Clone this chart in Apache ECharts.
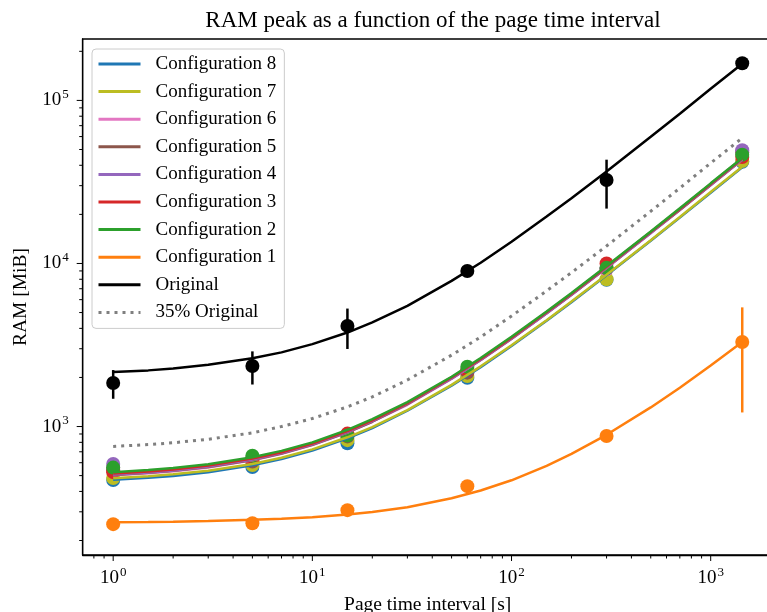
<!DOCTYPE html>
<html>
<head>
<meta charset="utf-8">
<script src="https://cdn.jsdelivr.net/npm/echarts@6/dist/echarts.min.js"></script>
<style>
  html, body { margin: 0; padding: 0; background: #fff; }
  #chart { width: 767px; height: 612px; }
</style>
</head>
<body>
<div id="chart"></div>
<script>
// measured points
const xPoints = [1, 5, 15, 60, 300, 1440];
const conf8Pts = [470, 565, 790, 1990, 7950, 42000];
const conf7Pts = [483, 580, 825, 2040, 8000, 42500];
const conf6Pts = [560, 615, 880, 2170, 9200, 49000];
const conf5Pts = [540, 610, 870, 2140, 9300, 48000];
const conf4Pts = [590, 640, 895, 2230, 9400, 49500];
const conf3Pts = [525, 630, 905, 2220, 10000, 45000];
const conf2Pts = [560, 662, 880, 2330, 9400, 46500];
const conf1Pts = [252, 255, 307, 431, 875, 3300];
const conf1Err = [0, 0, 0, 0, 0, 2080];
const origPts = [1850, 2350, 4140, 8990, 32500, 169000];
const origErr = [370, 540, 1150, 400, 10800, 5000];

// fitted curves, read at these x values
const fitX = [1, 1.5, 2, 3, 5, 7, 10, 15, 20, 30, 50, 70, 100, 150, 200, 300, 500, 700, 1000, 1440];
const conf8Fit = [472, 485, 498, 525, 579, 632, 712, 846, 979, 1250, 1780, 2310, 3120, 4450, 5790, 8460, 13800, 19100, 27100, 38900];
const conf7Fit = [482, 495, 509, 536, 590, 643, 724, 859, 993, 1260, 1800, 2340, 3150, 4490, 5840, 8530, 13900, 19300, 27400, 39200];
const conf6Fit = [502, 517, 531, 561, 621, 680, 769, 918, 1070, 1360, 1960, 2550, 3440, 4930, 6410, 9380, 15300, 21300, 30200, 43200];
const conf5Fit = [505, 520, 535, 564, 624, 684, 773, 922, 1070, 1370, 1970, 2560, 3460, 4950, 6440, 9420, 15400, 21300, 30300, 43400];
const conf4Fit = [508, 523, 538, 568, 628, 687, 777, 927, 1080, 1380, 1970, 2570, 3470, 4960, 6460, 9450, 15400, 21400, 30400, 43500];
const conf3Fit = [515, 530, 545, 576, 636, 696, 787, 938, 1090, 1390, 2000, 2600, 3510, 5020, 6530, 9550, 15600, 21600, 30700, 44000];
const conf2Fit = [525, 541, 556, 587, 648, 709, 800, 953, 1110, 1410, 2020, 2630, 3550, 5070, 6600, 9650, 15700, 21800, 31000, 44400];
const conf1Fit = [259, 260, 261, 263, 268, 272, 278, 289, 299, 320, 363, 405, 468, 574, 679, 890, 1310, 1730, 2370, 3300];
const origFit = [2160, 2210, 2270, 2390, 2620, 2850, 3200, 3770, 4350, 5500, 7820, 10100, 13600, 19400, 25100, 36700, 59800, 82900, 118000, 168000];
const orig35Fit = [755, 775, 795, 835, 915, 1000, 1120, 1320, 1520, 1930, 2740, 3540, 4760, 6790, 8790, 12800, 20900, 29000, 41300, 58800];

// axis ticks
const xMajor = [1, 10, 100, 1000];
const xMinor = [0.8, 0.9, 2, 3, 4, 5, 6, 7, 8, 9, 20, 30, 40, 50, 60, 70, 80, 90, 200, 300, 400, 500, 600, 700, 800, 900, 2000];
const yMajor = [1000, 10000, 100000];
const yMinor = [200, 300, 400, 500, 600, 700, 800, 900, 2000, 3000, 4000, 5000, 6000, 7000, 8000, 9000,
  20000, 30000, 40000, 50000, 60000, 70000, 80000, 90000, 200000];

const X_MIN = 0.703, X_MAX = 2048;
const Y_MIN = 163, Y_MAX = 238000;
const FONT = '"Liberation Serif", "DejaVu Serif", serif';

const configs = [
  { name: 'Configuration 8', color: '#1f77b4', pts: conf8Pts, fit: conf8Fit },
  { name: 'Configuration 7', color: '#bcbd22', pts: conf7Pts, fit: conf7Fit },
  { name: 'Configuration 6', color: '#e377c2', pts: conf6Pts, fit: conf6Fit },
  { name: 'Configuration 5', color: '#8c564b', pts: conf5Pts, fit: conf5Fit },
  { name: 'Configuration 4', color: '#9467bd', pts: conf4Pts, fit: conf4Fit },
  { name: 'Configuration 3', color: '#d62728', pts: conf3Pts, fit: conf3Fit },
  { name: 'Configuration 2', color: '#2ca02c', pts: conf2Pts, fit: conf2Fit },
  { name: 'Configuration 1', color: '#ff7f0e', pts: conf1Pts, fit: conf1Fit, err: conf1Err },
  { name: 'Original', color: '#000000', pts: origPts, fit: origFit, err: origErr }
];

function zip(xs, ys) {
  return xs.map((x, i) => [x, ys[i]]);
}

function errorBars(name, color, ys, errs) {
  return {
    type: 'custom',
    name: name + ' err',
    clip: false,
    data: xPoints.map((x, i) => [x, ys[i], errs[i]]),
    renderItem: function (params, api) {
      const x = api.value(0), y = api.value(1), e = api.value(2);
      if (!e) return null;
      const p1 = api.coord([x, y - e]);
      const p2 = api.coord([x, y + e]);
      return {
        type: 'line',
        shape: { x1: p1[0], y1: p1[1], x2: p2[0], y2: p2[1] },
        style: { stroke: color, lineWidth: 2.5 }
      };
    }
  };
}

function tickSeries(data, horizontal) {
  return {
    type: 'custom',
    silent: true,
    clip: false,
    data: data,
    renderItem: function (params, api) {
      const p = api.coord([api.value(0), api.value(1)]);
      const len = api.value(2);
      const shape = horizontal
        ? { x1: p[0], y1: p[1], x2: p[0], y2: p[1] + len }
        : { x1: p[0], y1: p[1], x2: p[0] - len, y2: p[1] };
      return { type: 'line', shape: shape, style: { stroke: '#000', lineWidth: 1 } };
    }
  };
}

const series = [];
configs.forEach(c => {
  series.push({
    type: 'line',
    name: c.name,
    data: zip(fitX, c.fit),
    symbol: 'none',
    showSymbol: false,
    lineStyle: { color: c.color, width: 2.5 },
    itemStyle: { color: c.color }
  });
  if (c.err) series.push(errorBars(c.name, c.color, c.pts, c.err));
  series.push({
    type: 'scatter',
    name: c.name + ' pts',
    data: zip(xPoints, c.pts),
    symbolSize: 14,
    itemStyle: { color: c.color, opacity: 1 }
  });
});
series.push({
  type: 'line',
  name: '35% Original',
  data: zip(fitX, orig35Fit),
  symbol: 'none',
  showSymbol: false,
  lineStyle: { color: '#7f7f7f', width: 3, type: [3, 5] },
  itemStyle: { color: '#7f7f7f' }
});

// axis ticks drawn through the axis scales
series.push(tickSeries(xMajor.map(v => [v, Y_MIN, 6]).concat(xMinor.map(v => [v, Y_MIN, 3.5])), true));
series.push(tickSeries(yMajor.map(v => [X_MIN, v, 6]).concat(yMinor.map(v => [X_MIN, v, 3.5])), false));

function powLabel(v) {
  const e = Math.log10(v);
  if (Math.abs(e - Math.round(e)) > 1e-6) return '';
  return '{b|10}{s|' + Math.round(e) + '}';
}

const richLabel = {
  b: { fontFamily: FONT, fontSize: 19, color: '#000' },
  s: { fontFamily: FONT, fontSize: 13, color: '#000', padding: [0, 0, 11, 1] }
};

const chart = echarts.init(document.getElementById('chart'), null, { renderer: 'canvas' });
chart.setOption({
  backgroundColor: '#ffffff',
  animation: false,
  title: {
    text: 'RAM peak as a function of the page time interval',
    left: 428,
    top: 4,
    textAlign: 'center',
    textStyle: { fontFamily: FONT, fontSize: 23, fontWeight: 'normal', color: '#000' }
  },
  legend: {
    data: configs.map(c => c.name).concat(['35% Original']),
    orient: 'vertical',
    left: 92,
    top: 49,
    padding: [5, 8, 6, 5],
    itemWidth: 42,
    itemHeight: 14,
    itemGap: 7.6,
    itemStyle: { opacity: 0 },
    lineStyle: { width: 3 },
    backgroundColor: 'rgba(255,255,255,0.8)',
    borderColor: '#cccccc',
    borderWidth: 1,
    borderRadius: 4,
    textStyle: { fontFamily: FONT, fontSize: 19, lineHeight: 20, color: '#000', padding: [0, 0, 0, 10] }
  },
  grid: {
    left: 82.7,
    top: 39,
    width: 690,
    height: 516,
    show: true,
    borderColor: '#000',
    borderWidth: 1.3,
    containLabel: false,
    outerBoundsMode: 'none'
  },
  xAxis: {
    type: 'log',
    logBase: 10,
    min: X_MIN,
    max: X_MAX,
    name: 'Page time interval [s]',
    nameLocation: 'middle',
    nameGap: 40,
    nameTextStyle: { fontFamily: FONT, fontSize: 19.5, color: '#000' },
    axisLine: { lineStyle: { color: '#000', width: 1.3 } },
    axisTick: { show: false },
    splitLine: { show: false },
    axisLabel: {
      margin: 11,
      showMinLabel: false,
      showMaxLabel: false,
      formatter: powLabel,
      rich: richLabel
    }
  },
  yAxis: {
    type: 'log',
    logBase: 10,
    min: Y_MIN,
    max: Y_MAX,
    name: 'RAM [MiB]',
    nameLocation: 'middle',
    nameGap: 47,
    nameRotate: 90,
    nameTextStyle: { fontFamily: FONT, fontSize: 19.5, color: '#000' },
    axisLine: { lineStyle: { color: '#000', width: 1.3 } },
    axisTick: { show: false },
    splitLine: { show: false },
    axisLabel: {
      margin: 14,
      showMinLabel: false,
      showMaxLabel: false,
      formatter: powLabel,
      rich: richLabel
    }
  },
  series: series
});
</script>
</body>
</html>
